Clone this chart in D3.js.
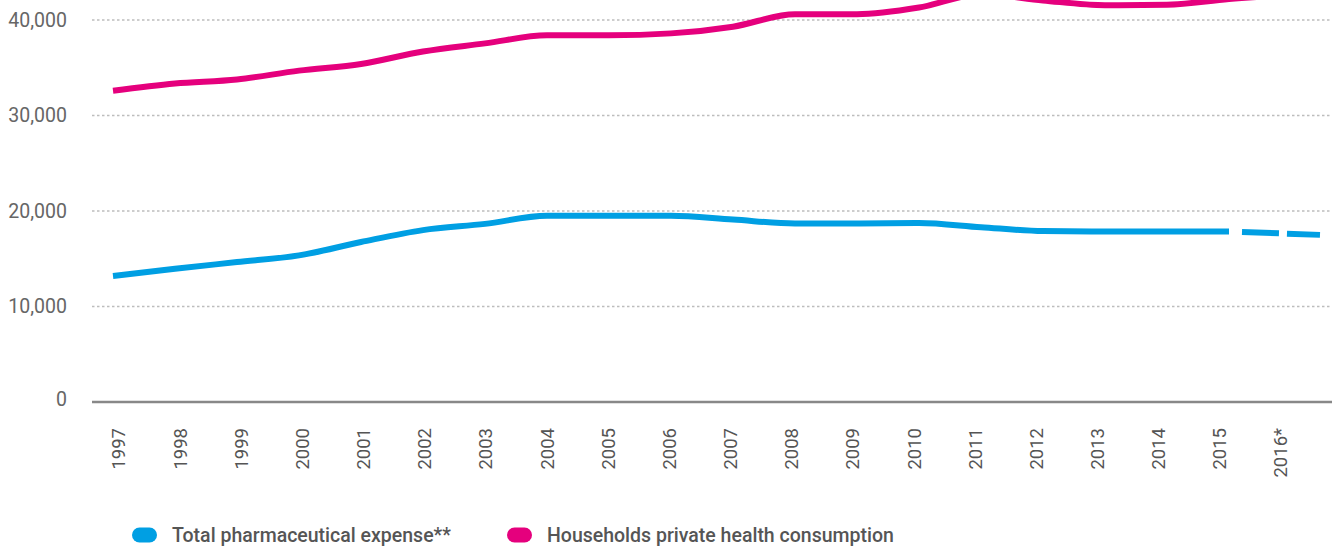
<!DOCTYPE html>
<html>
<head>
<meta charset="utf-8">
<script src="https://cdn.jsdelivr.net/npm/d3@7"></script>
<style>
  html, body { margin: 0; padding: 0; background: #fff; }
  svg { display: block; font-family: Roboto, "Noto Sans", sans-serif; }
</style>
</head>
<body>
<svg id="chart" width="1337" height="550"></svg>
<script>
// ---- data ----
const categories = ["1997","1998","1999","2000","2001","2002","2003","2004","2005","2006",
                    "2007","2008","2009","2010","2011","2012","2013","2014","2015","2016*"];
const pharmaExpense = [13200,13950,14650,15350,16750,18000,18650,19500,19500,19500,
                       19100,18700,18700,18750,18300,17900,17850,17850,17850,17500];
const householdsHealth = [32600,33350,33770,34700,35400,36700,37550,38400,38400,38600,
                          39300,40600,40600,41300,42700,42050,41550,41600,42200,42800];
const yTicks = [0,10000,20000,30000,40000];
const seriesNames = ["Total pharmaceutical expense**","Households private health consumption"];
const seriesColors = ["#009fe3","#e5007d"];
const projectedFrom = 18; // last actual value index; 2016* is an estimate (dashed)

// ---- layout ----
const svg = d3.select("#chart");
const plotLeft = 92, plotRight = 1332;
const y = d3.scaleLinear().domain([0, 40000]).range([402, 20]);
const xLabel = d3.scalePoint().domain(categories).range([119, 1281]);
// piecewise line scale (index -> px), the estimate segment is drawn wider
const xLine = d3.scaleLinear().domain([0, 18, 19]).range([113, 1229, 1320]);

// gridlines
svg.append("g").selectAll("line")
  .data(yTicks.filter(d => d > 0))
  .join("line")
  .attr("x1", plotLeft).attr("x2", plotRight)
  .attr("y1", d => y(d)).attr("y2", d => y(d))
  .attr("stroke", "#bdbdbd").attr("stroke-width", 1.3)
  .attr("stroke-dasharray", "2.5,2.5");

// y labels
const fmt = d3.format(",");
svg.append("g").selectAll("text")
  .data(yTicks)
  .join("text")
  .attr("x", 67).attr("y", d => y(d) - (d === 0 ? 3 : 0))
  .attr("dy", "0.35em")
  .attr("text-anchor", "end")
  .attr("fill", "#666")
  .style("font-size", "19.5px")
  .text(d => fmt(d));

// baseline axis
svg.append("line")
  .attr("x1", plotLeft).attr("x2", plotRight)
  .attr("y1", y(0)).attr("y2", y(0))
  .attr("stroke", "#888").attr("stroke-width", 2.5);

// x labels (rotated)
svg.append("g").selectAll("text")
  .data(categories)
  .join("text")
  .attr("transform", d => `translate(${xLabel(d)},428) rotate(-90)`)
  .attr("dy", "0.35em")
  .attr("text-anchor", "end")
  .attr("fill", "#555")
  .style("font-size", "18.5px")
  .text(d => d);

// lines
const line = d3.line()
  .x(d => xLine(d.i))
  .y(d => y(d.v))
  .curve(d3.curveMonotoneX);

const pharma = categories.map((c, i) => ({i, v: pharmaExpense[i]}));
const house = categories.map((c, i) => ({i, v: householdsHealth[i]}));

svg.append("path")
  .datum(house)
  .attr("d", line)
  .attr("fill", "none")
  .attr("stroke", seriesColors[1])
  .attr("stroke-width", 6);

svg.append("path")
  .datum(pharma.slice(0, projectedFrom + 1))
  .attr("d", line)
  .attr("fill", "none")
  .attr("stroke", seriesColors[0])
  .attr("stroke-width", 6);

svg.append("path")
  .datum(pharma.slice(projectedFrom))
  .attr("d", line)
  .attr("fill", "none")
  .attr("stroke", seriesColors[0])
  .attr("stroke-width", 6)
  .attr("stroke-dasharray", "0,13,37,8,40");

// legend
const legendX = [132, 507];
const lg = svg.append("g").selectAll("g")
  .data(seriesNames)
  .join("g")
  .attr("transform", (d, i) => `translate(${legendX[i]},535)`);
lg.append("rect")
  .attr("x", 0).attr("y", -7.5)
  .attr("width", 25).attr("height", 15)
  .attr("rx", 7.5)
  .attr("fill", (d, i) => seriesColors[i]);
lg.append("text")
  .attr("x", 40).attr("dy", "0.35em")
  .attr("fill", "#555")
  .style("font-size", "19.5px")
  .style("font-weight", 500)
  .text(d => d);
</script>
</body>
</html>
